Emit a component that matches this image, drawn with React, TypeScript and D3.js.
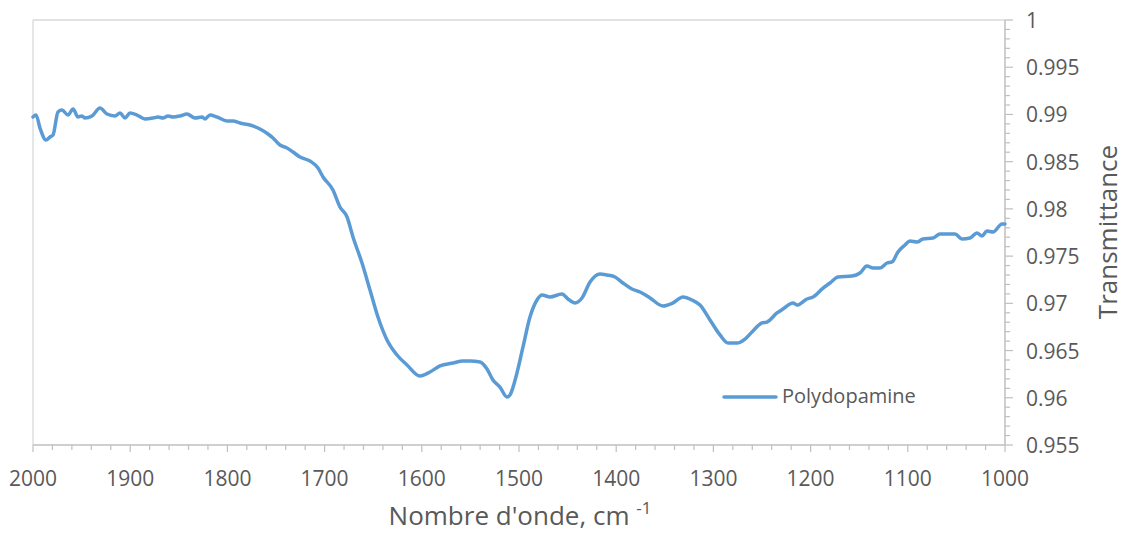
import React, { useEffect, useRef } from "react";
import * as d3 from "d3";

const wavenumbers = [
  2000, 1996.9, 1992.8, 1986.6, 1982.5, 1979.4, 1974.3, 1970.2, 1964.0, 1958.8,
  1953.7, 1949.6, 1946.5, 1939.3, 1931.1, 1923.9, 1915.6, 1910.5, 1905.3, 1900.2,
  1893.0, 1884.8, 1876.5, 1871.4, 1866.3, 1861.1, 1856.0, 1848.8, 1841.6, 1833.3,
  1826.1, 1823.0, 1817.9, 1810.7, 1800.4, 1794.2, 1787.0, 1776.7, 1766.5, 1758.2,
  1753.1, 1745.9, 1738.7, 1732.5, 1725.3, 1715.0, 1706.8, 1701.6, 1691.4, 1684.2,
  1676.9, 1670.8, 1661.5, 1653.3, 1645.1, 1635.8, 1625.5, 1615.2, 1601.9, 1591.6,
  1581.3, 1567.9, 1557.6, 1550.4, 1540.1, 1532.9, 1526.8, 1519.6, 1512.3, 1509.3,
  1502.1, 1495.9, 1488.7, 1481.5, 1476.3, 1468.1, 1455.8, 1449.6, 1442.4, 1435.2,
  1426.9, 1416.7, 1409.5, 1401.2, 1393.0, 1383.8, 1375.5, 1365.2, 1351.9, 1341.6,
  1331.3, 1322.0, 1313.8, 1303.5, 1293.2, 1285.0, 1275.7, 1267.5, 1260.3, 1250.0,
  1244.9, 1234.6, 1228.4, 1218.1, 1214.0, 1203.7, 1197.5, 1187.2, 1180.0, 1171.8,
  1157.4, 1149.2, 1142.0, 1135.8, 1128.6, 1121.4, 1116.3, 1110.1, 1102.9, 1097.7,
  1090.5, 1084.4, 1074.1, 1066.9, 1059.7, 1051.4, 1044.2, 1036.0, 1028.8, 1023.7,
  1018.5, 1012.3, 1003.1, 1000,
];

const transmittance = [
  0.98973, 0.98994, 0.98856, 0.98729, 0.98761, 0.98782, 0.99026, 0.99047, 0.98994, 0.99058,
  0.98973, 0.98984, 0.98962, 0.98984, 0.99068, 0.99005, 0.98984, 0.99015, 0.98962, 0.99015,
  0.98994, 0.98952, 0.98962, 0.98973, 0.98962, 0.98984, 0.98973, 0.98984, 0.99005, 0.98962,
  0.98973, 0.98952, 0.98994, 0.98973, 0.98931, 0.98931, 0.98909, 0.98888, 0.98846, 0.98793,
  0.98751, 0.98676, 0.98645, 0.98602, 0.98549, 0.98507, 0.98433, 0.98338, 0.982, 0.9802,
  0.97914, 0.97702, 0.97427, 0.97141, 0.96855, 0.96612, 0.96453, 0.96347, 0.96231, 0.96273,
  0.96337, 0.96368, 0.96389, 0.96389, 0.96379, 0.96305, 0.96188, 0.96114, 0.96008, 0.96029,
  0.96262, 0.96538, 0.96855, 0.97035, 0.97088, 0.97067, 0.97099, 0.97046, 0.97004, 0.97057,
  0.97226, 0.97311, 0.973, 0.97279, 0.97215, 0.97152, 0.9712, 0.97057, 0.96972, 0.97004,
  0.97067, 0.97035, 0.96982, 0.96824, 0.96665, 0.9658, 0.9658, 0.96622, 0.96697, 0.96792,
  0.96802, 0.96898, 0.9694, 0.97004, 0.96982, 0.97046, 0.97067, 0.97162, 0.97215, 0.97279,
  0.97289, 0.97321, 0.97395, 0.97374, 0.97374, 0.97427, 0.97438, 0.97544, 0.97618, 0.9766,
  0.97649, 0.97681, 0.97692, 0.97734, 0.97734, 0.97734, 0.97681, 0.97692, 0.97745, 0.97713,
  0.97766, 0.97755, 0.9784, 0.9784,
];

const xTickValues = [2000, 1900, 1800, 1700, 1600, 1500, 1400, 1300, 1200, 1100, 1000];
const yTickValues = [0.955, 0.96, 0.965, 0.97, 0.975, 0.98, 0.985, 0.99, 0.995, 1];
const yTickLabels = ["0.955", "0.96", "0.965", "0.97", "0.975", "0.98", "0.985", "0.99", "0.995", "1"];
const seriesName = "Polydopamine";
const xTitle = "Nombre d'onde, cm";
const xTitleSup = "-1";
const yTitle = "Transmittance";

const W = 1127;
const H = 534;
const FONT = "'Open Sans', 'DejaVu Sans', sans-serif";
const TEXT = "#595959";

export default function App() {
  const ref = useRef<SVGSVGElement>(null);

  useEffect(() => {
    const svg = d3.select(ref.current);
    svg.selectAll("*").remove();

    const left = 33, right = 1005, top = 20, bottom = 445;
    const x = d3.scaleLinear().domain([2000, 1000]).range([left, right]);
    const y = d3.scaleLinear().domain([0.955, 1]).range([bottom, top]);

    // plot frame (light)
    svg.append("line").attr("x1", left).attr("x2", right).attr("y1", top).attr("y2", top)
      .attr("stroke", "#d9d9d9").attr("stroke-width", 1.3);
    svg.append("line").attr("x1", left).attr("x2", left).attr("y1", top).attr("y2", bottom)
      .attr("stroke", "#d9d9d9").attr("stroke-width", 1.3);

    // x axis
    const xAxisG = svg.append("g");
    xAxisG.append("line").attr("x1", left).attr("x2", right).attr("y1", bottom).attr("y2", bottom)
      .attr("stroke", "#bfbfbf").attr("stroke-width", 1.5);
    const xMinor = d3.range(0, 51).map((i) => 2000 - i * 20);
    xAxisG.selectAll("line.minor").data(xMinor).enter().append("line")
      .attr("x1", (d) => x(d)).attr("x2", (d) => x(d))
      .attr("y1", bottom).attr("y2", (d) => bottom + (d % 100 === 0 ? 7 : 5))
      .attr("stroke", "#bfbfbf").attr("stroke-width", 1.2);
    xAxisG.selectAll("text").data(xTickValues).enter().append("text")
      .attr("x", (d) => x(d)).attr("y", 486)
      .attr("text-anchor", "middle").attr("font-family", FONT).attr("font-size", 21)
      .attr("fill", TEXT).text((d) => String(d));

    // y axis (right)
    const yAxisG = svg.append("g");
    yAxisG.append("line").attr("x1", right).attr("x2", right).attr("y1", top).attr("y2", bottom)
      .attr("stroke", "#bfbfbf").attr("stroke-width", 1.5);
    const yMinor = d3.range(0, 46).map((i) => 0.955 + i * 0.001);
    yAxisG.selectAll("line.minor").data(yMinor).enter().append("line")
      .attr("y1", (d) => y(d)).attr("y2", (d) => y(d))
      .attr("x1", right).attr("x2", (_d, i) => right + (i % 5 === 0 ? 8 : 5))
      .attr("stroke", "#bfbfbf").attr("stroke-width", 1.2);
    yAxisG.selectAll("text").data(yTickValues).enter().append("text")
      .attr("x", 1026).attr("y", (d) => y(d) + 8)
      .attr("font-family", FONT).attr("font-size", 21)
      .attr("fill", TEXT).text((_d, i) => yTickLabels[i]);

    // line
    const pts = wavenumbers.map((w, i) => [w, transmittance[i]] as [number, number]);
    const line = d3.line<[number, number]>()
      .x((d) => x(d[0])).y((d) => y(d[1]))
      .curve(d3.curveMonotoneX);
    svg.append("path").attr("d", line(pts) || "")
      .attr("fill", "none").attr("stroke", "#5b9bd5").attr("stroke-width", 3.5)
      .attr("stroke-linejoin", "round").attr("stroke-linecap", "round");

    // legend
    svg.append("line").attr("x1", 724).attr("x2", 776).attr("y1", 397).attr("y2", 397)
      .attr("stroke", "#5b9bd5").attr("stroke-width", 3.5).attr("stroke-linecap", "round");
    svg.append("text").attr("x", 782).attr("y", 403)
      .attr("font-family", FONT).attr("font-size", 20).attr("fill", TEXT).text(seriesName);

    // x title
    const xt = svg.append("text").attr("x", 520).attr("y", 525).attr("text-anchor", "middle")
      .attr("font-family", FONT).attr("font-size", 26).attr("fill", TEXT);
    xt.append("tspan").text(xTitle + " ");
    xt.append("tspan").attr("font-size", 17).attr("dy", -11).text(xTitleSup);

    // y title
    svg.append("text")
      .attr("transform", `translate(1117, 232) rotate(-90)`)
      .attr("text-anchor", "middle")
      .attr("font-family", FONT).attr("font-size", 26).attr("fill", TEXT)
      .text(yTitle);
  }, []);

  return (
    <svg ref={ref} width={W} height={H}
      style={{ position: "absolute", left: 0, top: 0, background: "#fff" }} />
  );
}
